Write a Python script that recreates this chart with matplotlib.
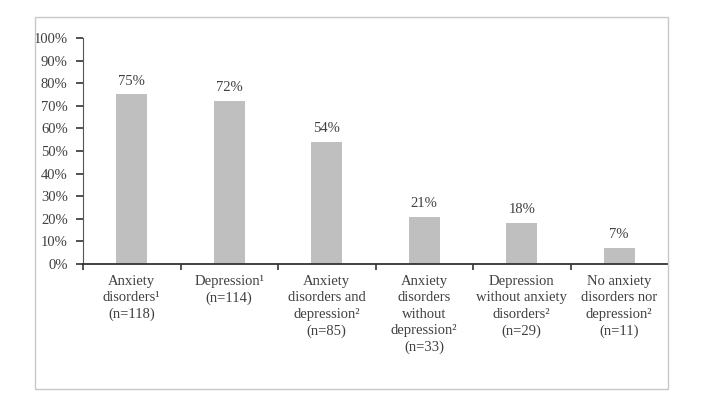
import numpy as np
import matplotlib.pyplot as plt
from matplotlib.patches import Rectangle
from matplotlib.ticker import FixedLocator, PercentFormatter

# data
categories = [
    "Anxiety\ndisorders\u00b9\n(n=118)",
    "Depression\u00b9\n(n=114)",
    "Anxiety\ndisorders and\ndepression\u00b2\n(n=85)",
    "Anxiety\ndisorders\nwithout\ndepression\u00b2\n(n=33)",
    "Depression\nwithout anxiety\ndisorders\u00b2\n(n=29)",
    "No anxiety\ndisorders nor\ndepression\u00b2\n(n=11)",
]
percent = [75, 72, 54, 21, 18, 7]
y_ticks = np.arange(0, 101, 10)

txt = '#404040'
plt.rcParams['font.family'] = ['Liberation Serif', 'DejaVu Serif']
plt.rcParams['font.size'] = 10.5

fig = plt.figure(figsize=(7.2, 4.07), dpi=100)
ax = fig.add_axes([83/720, 1-264/407, (668-83)/720, (264-38)/407])

# outer frame
fig.patches.append(Rectangle((35/720, 1-389/407), (668-35)/720, (389-17)/407,
                             transform=fig.transFigure, fill=False,
                             edgecolor='#c8c8c8', linewidth=1))

x = np.arange(len(categories))
bars = ax.bar(x, percent, width=0.32, color='#bfbfbf', edgecolor='none')
for b, v in zip(bars, percent):
    ax.annotate(f"{v}%", (b.get_x() + b.get_width()/2, v), xytext=(0, 5),
                textcoords='offset points', ha='center', va='bottom',
                color=txt)

ax.set_xlim(-0.5, len(categories) - 0.5)
ax.set_ylim(0, 100)
ax.set_yticks(y_ticks)
ax.yaxis.set_major_formatter(PercentFormatter(decimals=0))
ax.tick_params(axis='y', colors='#333333', labelcolor=txt, length=5, width=1.2, pad=6)

# category ticks at boundaries (not at the far right end), labels in the middle
ax.xaxis.set_major_locator(FixedLocator(np.arange(len(categories)) - 0.5))
ax.xaxis.set_minor_locator(FixedLocator(x))
ax.set_xticklabels([])
ax.set_xticklabels(categories, minor=True, color=txt, linespacing=1.33)
ax.tick_params(axis='x', which='major', length=4, width=1.2, color='#333333')
ax.tick_params(axis='x', which='minor', length=0, pad=8)

for s in ['top', 'right']:
    ax.spines[s].set_visible(False)
ax.spines['left'].set_color('#555555')
ax.spines['bottom'].set_color('#333333')
ax.spines['bottom'].set_linewidth(1.3)

fig.savefig('out.png', dpi=100)
